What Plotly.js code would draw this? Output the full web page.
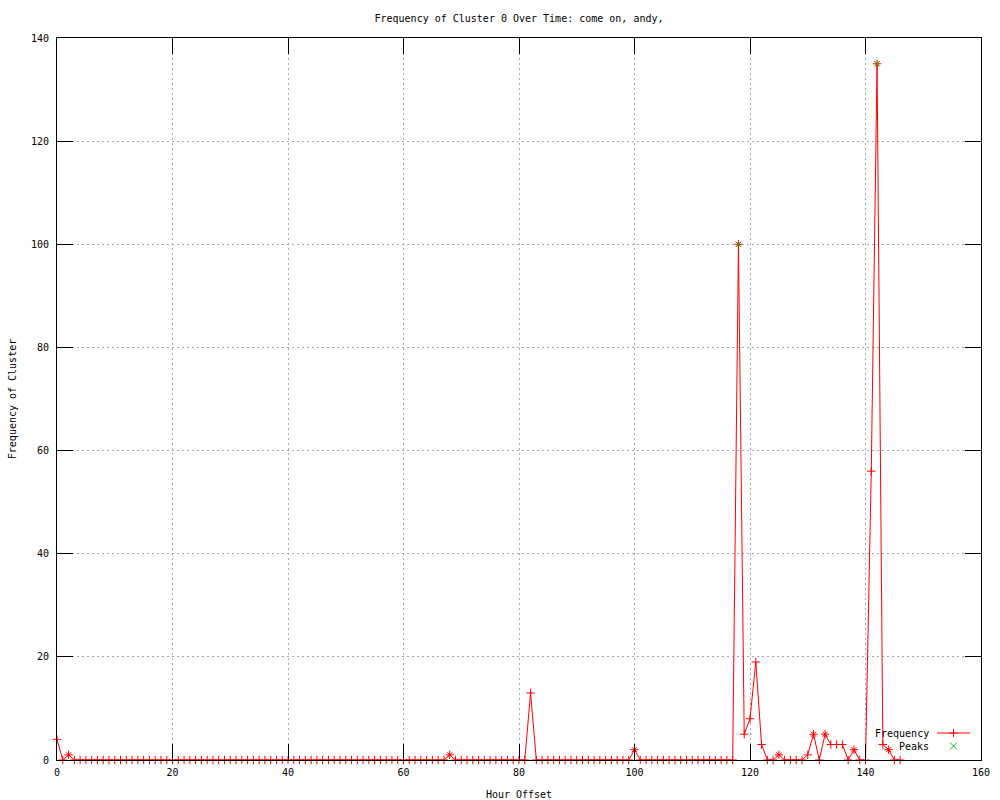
<!DOCTYPE html>
<html>
<head>
<meta charset="utf-8">
<script src="https://cdn.plot.ly/plotly-3.0.1.min.js"></script>
<style>
  html, body { margin: 0; padding: 0; background: #ffffff; }
  #chart { width: 1000px; height: 800px; }
</style>
</head>
<body>
<div id="chart"></div>
<script>
// ---- data ----
const hours = [
  0, 1, 2, 3, 4, 5, 6, 7, 8, 9,
  10, 11, 12, 13, 14, 15, 16, 17, 18, 19,
  20, 21, 22, 23, 24, 25, 26, 27, 28, 29,
  30, 31, 32, 33, 34, 35, 36, 37, 38, 39,
  40, 41, 42, 43, 44, 45, 46, 47, 48, 49,
  50, 51, 52, 53, 54, 55, 56, 57, 58, 59,
  60, 61, 62, 63, 64, 65, 66, 67, 68, 69,
  70, 71, 72, 73, 74, 75, 76, 77, 78, 79,
  80, 81, 82, 83, 84, 85, 86, 87, 88, 89,
  90, 91, 92, 93, 94, 95, 96, 97, 98, 99,
  100, 101, 102, 103, 104, 105, 106, 107, 108, 109,
  110, 111, 112, 113, 114, 115, 116, 117, 118, 119,
  120, 121, 122, 123, 124, 125, 126, 127, 128, 129,
  130, 131, 132, 133, 134, 135, 136, 137, 138, 139,
  140, 141, 142, 143, 144, 145, 146
];
const frequency = [
  4, 0, 1, 0, 0, 0, 0, 0, 0, 0,
  0, 0, 0, 0, 0, 0, 0, 0, 0, 0,
  0, 0, 0, 0, 0, 0, 0, 0, 0, 0,
  0, 0, 0, 0, 0, 0, 0, 0, 0, 0,
  0, 0, 0, 0, 0, 0, 0, 0, 0, 0,
  0, 0, 0, 0, 0, 0, 0, 0, 0, 0,
  0, 0, 0, 0, 0, 0, 0, 0, 1, 0,
  0, 0, 0, 0, 0, 0, 0, 0, 0, 0,
  0, 0, 13, 0, 0, 0, 0, 0, 0, 0,
  0, 0, 0, 0, 0, 0, 0, 0, 0, 0,
  2, 0, 0, 0, 0, 0, 0, 0, 0, 0,
  0, 0, 0, 0, 0, 0, 0, 0, 100, 5,
  8, 19, 3, 0, 0, 1, 0, 0, 0, 0,
  1, 5, 0, 5, 3, 3, 3, 0, 2, 0,
  0, 56, 135, 3, 2, 0, 0
];
// points drawn with an extra red "x" (appear as stars in the reference)
const starHours = [2, 68, 100, 118, 125, 131, 133, 138, 142, 144];
const starValues = [1, 1, 2, 100, 1, 5, 5, 2, 135, 2];
// peaks series
const peakHours = [118, 142];
const peakValues = [100, 135];

const titleText = "Frequency of Cluster 0 Over Time: come on, andy,";
const xTitle = "Hour Offset";
const yTitle = "Frequency of Cluster";
const legendNames = ["Frequency", "Peaks"];

// ---- styles ----
const RED = "#ff0000";
const GREEN = "#00c000";
const FONT = "DejaVu Sans Mono";

const traces = [
  {
    x: hours, y: frequency, type: "scatter", mode: "lines+markers",
    name: legendNames[0], cliponaxis: false,
    line: { color: RED, width: 1 },
    marker: { symbol: "cross-thin-open", size: 6, color: RED, line: { color: RED, width: 1 } },
    showlegend: false
  },
  {
    x: starHours, y: starValues, type: "scatter", mode: "markers",
    cliponaxis: false, showlegend: false,
    marker: { symbol: "x-thin-open", size: 5, color: RED, line: { color: RED, width: 1 } }
  },
  {
    x: peakHours, y: peakValues, type: "scatter", mode: "markers",
    name: legendNames[1], cliponaxis: false, showlegend: false,
    marker: { symbol: "x-thin-open", size: 5, color: GREEN, line: { color: GREEN, width: 1 } }
  }
];

// plot area in pixels
const L = 57, R = 19, T = 38, B = 40, W = 1000, H = 800;
const pw = W - L - R, ph = H - T - B;
const px = v => (v - L) / pw;
const py = v => (H - B - v) / ph;

const legendShapes = [
  { type: "line", xref: "paper", yref: "paper", x0: px(937), x1: px(970), y0: py(733), y1: py(733),
    line: { color: RED, width: 1 } },
  { type: "path", xref: "paper", yref: "paper", xsizemode: "pixel", ysizemode: "pixel",
    xanchor: px(953.5), yanchor: py(733), path: "M-4,0 L4,0 M0,-4 L0,4",
    line: { color: RED, width: 1 } },
  { type: "path", xref: "paper", yref: "paper", xsizemode: "pixel", ysizemode: "pixel",
    xanchor: px(953.5), yanchor: py(746), path: "M-3.5,-3.5 L3.5,3.5 M-3.5,3.5 L3.5,-3.5",
    line: { color: GREEN, width: 1 } }
];

const legendAnnotations = [
  { xref: "paper", yref: "paper", x: px(931), y: py(733), xanchor: "right", yanchor: "middle",
    text: legendNames[0], showarrow: false, font: { family: FONT, size: 10, color: "#000" } },
  { xref: "paper", yref: "paper", x: px(931), y: py(746), xanchor: "right", yanchor: "middle",
    text: legendNames[1], showarrow: false, font: { family: FONT, size: 10, color: "#000" } }
];

const axisCommon = {
  showline: true, linecolor: "#000", linewidth: 1, mirror: "ticks",
  ticks: "inside", ticklen: 16, tickwidth: 1, tickcolor: "#000",
  showgrid: true, gridcolor: "#a8a8a8", gridwidth: 1, griddash: "2px,3px",
  zeroline: false, tickfont: { family: FONT, size: 10, color: "#000" }
};

const layout = {
  width: W, height: H,
  margin: { l: L, r: R, t: T, b: B, pad: 0 },
  paper_bgcolor: "#ffffff", plot_bgcolor: "#ffffff",
  font: { family: FONT, size: 10, color: "#000" },
  title: { text: titleText, x: 0.5, xref: "paper", xanchor: "center", y: 1 - 18 / H, yanchor: "middle",
    font: { family: FONT, size: 10, color: "#000" } },
  xaxis: Object.assign({}, axisCommon, {
    range: [0, 160], tickmode: "linear", tick0: 0, dtick: 20, ticklabelstandoff: 3,
    title: { text: xTitle, standoff: 14, font: { family: FONT, size: 10, color: "#000" } }
  }),
  yaxis: Object.assign({}, axisCommon, {
    range: [0, 140], tickmode: "linear", tick0: 0, dtick: 20, ticklabelstandoff: 5,
    title: { text: yTitle, standoff: 12, font: { family: FONT, size: 10, color: "#000" } }
  }),
  showlegend: false,
  shapes: legendShapes,
  annotations: legendAnnotations
};

Plotly.newPlot("chart", traces, layout, { displayModeBar: false, staticPlot: true });
</script>
</body>
</html>
